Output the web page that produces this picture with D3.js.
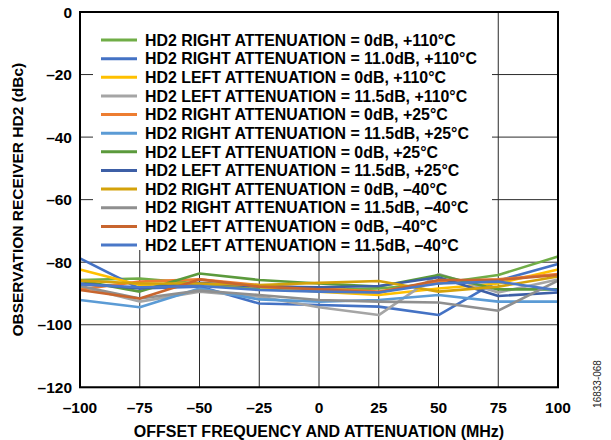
<!DOCTYPE html>
<html><head><meta charset="utf-8">
<script src="https://cdn.jsdelivr.net/npm/d3@7"></script>
<style>
html,body{margin:0;padding:0;background:#fff;}
svg{display:block;font-family:"Liberation Sans",Arial,Helvetica,sans-serif;}
</style></head>
<body><svg id="c" width="611" height="440"></svg>
<script>
const offsets = [-100, -75, -50, -25, 0, 25, 50, 75, 100];
const xTicks = [-100, -75, -50, -25, 0, 25, 50, 75, 100];
const xTickLabels = ["–100", "–75", "–50", "–25", "0", "25", "50", "75", "100"];
const yTicks = [0, -20, -40, -60, -80, -100, -120];
const yTickLabels = ["0", "–20", "–40", "–60", "–80", "–100", "–120"];
const seriesNames = [
  "HD2 RIGHT ATTENUATION = 0dB, +110°C",
  "HD2 RIGHT ATTENUATION = 11.0dB, +110°C",
  "HD2 LEFT ATTENUATION = 0dB, +110°C",
  "HD2 LEFT ATTENUATION = 11.5dB, +110°C",
  "HD2 RIGHT ATTENUATION = 0dB, +25°C",
  "HD2 RIGHT ATTENUATION = 11.5dB, +25°C",
  "HD2 LEFT ATTENUATION = 0dB, +25°C",
  "HD2 LEFT ATTENUATION = 11.5dB, +25°C",
  "HD2 RIGHT ATTENUATION = 0dB, –40°C",
  "HD2 RIGHT ATTENUATION = 11.5dB, –40°C",
  "HD2 LEFT ATTENUATION = 0dB, –40°C",
  "HD2 LEFT ATTENUATION = 11.5dB, –40°C"
];
const seriesColors = ["#70AD47","#4472C4","#FFC000","#A5A5A5","#ED7D31","#5B9BD5",
                      "#5B9A3C","#3D5FA6","#D4A20A","#8F8F8F","#C8652E","#4A78C8"];
const s1  = [-85.7, -85.2, -86.8, -88.7, -88.9, -88.4, -86.8, -84.1, -78.2];
const s2  = [-78.8, -88.4, -87.8, -93.2, -93.7, -94.2, -96.9, -85.9, -80.6];
const s3  = [-82.3, -87.3, -86.8, -87.8, -89.4, -90.5, -88.4, -86.8, -82.3];
const s4  = [-87.8, -92.6, -89.4, -91.0, -94.4, -96.9, -83.8, -89.7, -85.5];
const s5  = [-88.7, -86.2, -85.5, -87.3, -88.4, -89.4, -86.2, -85.5, -83.8];
const s6  = [-92.1, -94.4, -88.4, -91.9, -92.6, -92.1, -90.5, -92.6, -92.6];
const s7  = [-85.9, -89.4, -83.6, -85.7, -86.8, -87.8, -84.1, -88.7, -88.7];
const s8  = [-86.8, -88.4, -86.6, -87.8, -88.0, -87.6, -84.8, -90.8, -89.7];
const s9  = [-85.9, -86.8, -86.8, -87.3, -86.6, -86.0, -89.4, -87.8, -84.6];
const s10 = [-87.6, -91.6, -89.1, -90.5, -92.1, -92.6, -92.9, -95.5, -85.9];
const s11 = [-88.9, -91.6, -85.5, -87.8, -88.7, -89.7, -85.7, -85.7, -84.1];
const s12 = [-87.1, -88.0, -87.6, -88.9, -89.4, -89.7, -86.8, -86.2, -89.0];
const seriesValues = [s1,s2,s3,s4,s5,s6,s7,s8,s9,s10,s11,s12];

const svg = d3.select("#c");
const L = 80, R = 558, T = 12, B = 387.3;
const x = d3.scaleLinear().domain([-100, 100]).range([L, R]);
const y = d3.scaleLinear().domain([-120, 0]).range([B, T]);

// gridlines
const g = svg.append("g");
g.selectAll("line.h").data(yTicks).join("line")
  .attr("x1", L).attr("x2", R).attr("y1", d => y(d)).attr("y2", d => y(d))
  .attr("stroke", "#2a2a2a").attr("stroke-width", 1);
g.selectAll("line.v").data(xTicks).join("line")
  .attr("y1", T).attr("y2", B).attr("x1", d => x(d)).attr("x2", d => x(d))
  .attr("stroke", "#2a2a2a").attr("stroke-width", 1);

// legend background
svg.append("rect").attr("x", 93).attr("y", T + 1).attr("width", 399).attr("height", 237).attr("fill", "#fff");

// series lines
const line = d3.line().x((d, i) => x(offsets[i])).y(d => y(d));
svg.append("g").selectAll("path").data(seriesValues).join("path")
  .attr("d", d => line(d)).attr("fill", "none")
  .attr("stroke", (d, i) => seriesColors[i]).attr("stroke-width", 2.6)
  .attr("stroke-linejoin", "round");

// border
svg.append("rect").attr("x", L).attr("y", T).attr("width", R - L).attr("height", B - T)
  .attr("fill", "none").attr("stroke", "#000").attr("stroke-width", 2);

// tick labels
svg.append("g").selectAll("text").data(yTicks).join("text")
  .attr("x", 72).attr("y", d => y(d)).attr("dy", "0.36em").attr("text-anchor", "end")
  .attr("font-weight", "bold").attr("font-size", 15.5).text((d, i) => yTickLabels[i]);
svg.append("g").selectAll("text").data(xTicks).join("text")
  .attr("x", d => x(d)).attr("y", 413).attr("text-anchor", "middle")
  .attr("font-weight", "bold").attr("font-size", 15.5).text((d, i) => xTickLabels[i]);

// axis titles
svg.append("text").attr("x", 319).attr("y", 437).attr("text-anchor", "middle")
  .attr("font-weight", "bold").attr("font-size", 16).text("OFFSET FREQUENCY AND ATTENUATION (MHz)");
svg.append("text").attr("transform", "translate(23," + ((T + B) / 2) + ") rotate(-90)")
  .attr("text-anchor", "middle").attr("font-weight", "bold").attr("font-size", 15.5)
  .text("OBSERVATION RECEIVER HD2 (dBc)");
svg.append("text").attr("transform", "translate(601,384) rotate(-90)")
  .attr("text-anchor", "middle").attr("font-size", 10).attr("fill", "#222").text("16833-068");

// legend
const lg = svg.append("g").selectAll("g").data(seriesNames).join("g")
  .attr("transform", (d, i) => "translate(0," + (40 + i * 18.64) + ")");
lg.append("line").attr("x1", 101).attr("x2", 137).attr("y1", 0).attr("y2", 0)
  .attr("stroke", (d, i) => seriesColors[i]).attr("stroke-width", 3);
lg.append("text").attr("x", 145).attr("y", 0).attr("dy", "0.36em")
  .attr("font-weight", "bold").attr("font-size", 15.9).text(d => d);
</script></body></html>
